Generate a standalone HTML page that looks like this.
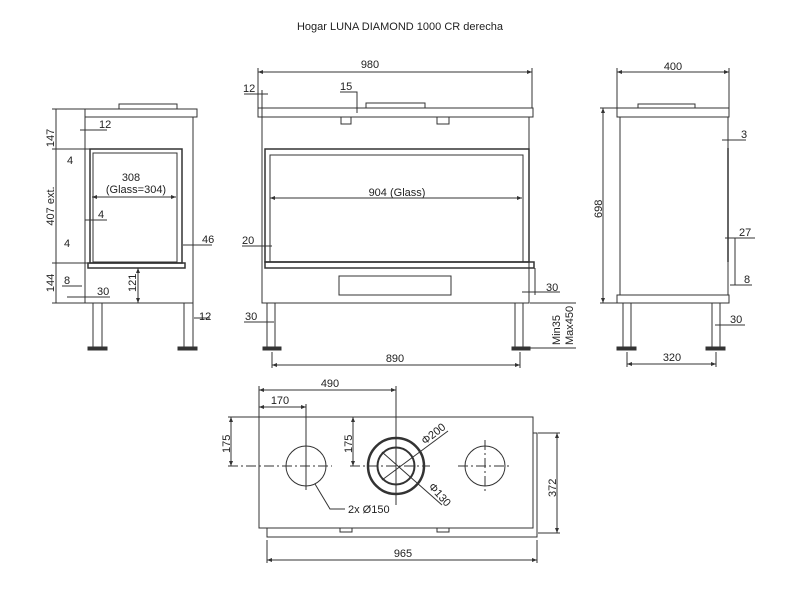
<!DOCTYPE html>
<html><head><meta charset="utf-8"><style>
html,body{margin:0;padding:0;background:#fff}
svg{display:block}
text{font-family:"Liberation Sans",sans-serif;fill:#222}
</style></head><body>
<svg width="800" height="600" viewBox="0 0 800 600" xmlns="http://www.w3.org/2000/svg">
<defs><marker id="a" markerWidth="6" markerHeight="6" refX="5" refY="3" orient="auto-start-reverse"><path d="M0,1 L5,3 L0,5" fill="#333"/></marker></defs>
<text x="400" y="30" font-size="11" text-anchor="middle">Hogar LUNA DIAMOND 1000 CR derecha</text>
<g stroke="#333" stroke-width="1" fill="none">
<!-- LEFT VIEW -->
<rect x="119" y="104" width="58" height="5"/>
<rect x="85" y="109" width="112" height="8"/>
<rect x="85" y="117" width="108" height="186"/>
<rect x="90" y="149" width="92" height="114" stroke-width="1.5"/>
<rect x="93" y="153" width="84" height="109"/>
<rect x="88" y="263" width="97" height="5" stroke-width="1.5"/>
<rect x="93" y="303" width="9" height="44"/><rect x="88" y="347" width="19" height="3" fill="#333"/>
<rect x="184" y="303" width="9" height="44"/><rect x="178" y="347" width="19" height="3" fill="#333"/>
<line x1="56" y1="109" x2="56" y2="303"/>
<line x1="52" y1="109" x2="85" y2="109"/><line x1="52" y1="149" x2="90" y2="149"/><line x1="52" y1="263" x2="90" y2="263"/><line x1="52" y1="303" x2="85" y2="303"/>
<line x1="92" y1="197" x2="176" y2="197" marker-start="url(#a)" marker-end="url(#a)"/>
<line x1="80" y1="130" x2="107" y2="130"/><line x1="85" y1="220" x2="107" y2="220"/>
<line x1="67" y1="297" x2="110" y2="297"/><line x1="62" y1="286" x2="82" y2="286"/>
<line x1="183" y1="245" x2="212" y2="245"/>
<line x1="138" y1="268" x2="138" y2="303" marker-start="url(#a)" marker-end="url(#a)"/>
<line x1="194" y1="318" x2="210" y2="318"/>
<!-- MIDDLE VIEW -->
<line x1="258" y1="72" x2="532" y2="72" marker-start="url(#a)" marker-end="url(#a)"/>
<line x1="258" y1="68" x2="258" y2="108"/><line x1="532" y1="68" x2="532" y2="108"/>
<line x1="244" y1="94" x2="268" y2="94"/><line x1="262" y1="90" x2="262" y2="117"/>
<polyline points="340,92 357,92 357,113"/>
<rect x="366" y="103" width="59" height="5"/>
<rect x="258" y="108" width="275" height="9"/>
<rect x="341" y="117" width="10" height="7"/><rect x="437" y="117" width="12" height="7"/>
<rect x="262" y="117" width="267" height="186"/>
<rect x="265" y="149" width="264" height="113" stroke-width="1.5"/>
<rect x="270" y="155" width="253" height="107"/>
<rect x="265" y="262" width="269" height="6" stroke-width="1.5"/>
<line x1="270" y1="198" x2="522" y2="198" marker-start="url(#a)" marker-end="url(#a)"/>
<line x1="242" y1="246" x2="272" y2="246"/>
<rect x="339" y="276" width="112" height="19"/>
<rect x="267" y="303" width="8" height="44"/><rect x="263" y="347" width="18" height="3" fill="#333"/>
<rect x="515" y="303" width="8" height="44"/><rect x="512" y="347" width="18" height="3" fill="#333"/>
<line x1="535" y1="268" x2="535" y2="295"/><line x1="522" y1="292" x2="560" y2="292"/>
<line x1="530" y1="303" x2="576" y2="303"/><line x1="530" y1="348" x2="576" y2="348"/>
<line x1="244" y1="322" x2="274" y2="322"/>
<line x1="272" y1="352" x2="272" y2="368"/><line x1="520" y1="352" x2="520" y2="368"/>
<line x1="272" y1="365" x2="520" y2="365" marker-start="url(#a)" marker-end="url(#a)"/>
<!-- RIGHT VIEW -->
<line x1="617" y1="72" x2="729" y2="72" marker-start="url(#a)" marker-end="url(#a)"/>
<line x1="617" y1="68" x2="617" y2="108"/><line x1="729" y1="68" x2="729" y2="108"/>
<rect x="638" y="104" width="57" height="4"/>
<rect x="617" y="108" width="112" height="9"/>
<rect x="620" y="117" width="108" height="178"/>
<rect x="617" y="295" width="112" height="8"/>
<line x1="728" y1="148" x2="728" y2="262" stroke-width="1.5"/>
<line x1="603" y1="108" x2="603" y2="303" marker-start="url(#a)" marker-end="url(#a)"/>
<line x1="600" y1="108" x2="617" y2="108"/><line x1="600" y1="303" x2="617" y2="303"/>
<line x1="722" y1="140" x2="746" y2="140"/>
<line x1="725" y1="238" x2="755" y2="238"/><line x1="735" y1="238" x2="735" y2="285"/>
<line x1="730" y1="285" x2="752" y2="285"/>
<rect x="623" y="303" width="8" height="44"/><rect x="617" y="347" width="19" height="3" fill="#333"/>
<rect x="712" y="303" width="8" height="44"/><rect x="706" y="347" width="19" height="3" fill="#333"/>
<line x1="715" y1="325" x2="745" y2="325"/>
<line x1="627" y1="352" x2="627" y2="367"/><line x1="716" y1="352" x2="716" y2="367"/>
<line x1="627" y1="364" x2="716" y2="364" marker-start="url(#a)" marker-end="url(#a)"/>
<!-- BOTTOM VIEW -->
<line x1="259" y1="390" x2="396" y2="390" marker-start="url(#a)" marker-end="url(#a)"/>
<line x1="259" y1="386" x2="259" y2="417"/><line x1="396" y1="386" x2="396" y2="505"/>
<line x1="259" y1="407" x2="306" y2="407" marker-start="url(#a)" marker-end="url(#a)"/>
<line x1="306" y1="404" x2="306" y2="490"/>
<rect x="259" y="417" width="274" height="111"/>
<polyline points="267,528 267,537 537,537 537,433 533,433"/>
<rect x="340" y="528" width="12" height="4"/><rect x="437" y="528" width="12" height="4"/>
<line x1="231" y1="417" x2="231" y2="466" marker-start="url(#a)" marker-end="url(#a)"/>
<line x1="228" y1="417" x2="259" y2="417"/><line x1="228" y1="466" x2="332" y2="466" stroke-dasharray="10,3,2,3"/>
<line x1="353" y1="417" x2="353" y2="466" marker-start="url(#a)" marker-end="url(#a)"/>
<line x1="350" y1="466" x2="430" y2="466" stroke-dasharray="10,3,2,3"/>
<line x1="458" y1="466" x2="512" y2="466" stroke-dasharray="10,3,2,3"/>
<line x1="485" y1="440" x2="485" y2="492" stroke-dasharray="10,3,2,3"/>
<circle cx="306" cy="466" r="20"/>
<circle cx="396" cy="466" r="28" stroke-width="2.5"/>
<circle cx="396" cy="466" r="18.5" stroke-width="2"/>
<circle cx="485" cy="466" r="20"/>
<line x1="382" y1="480" x2="448" y2="431"/>
<line x1="382" y1="452" x2="442" y2="505"/>
<polyline points="315,484 330,509 345,509"/>
<line x1="557" y1="433" x2="557" y2="533" marker-start="url(#a)" marker-end="url(#a)"/>
<line x1="538" y1="433" x2="560" y2="433"/><line x1="538" y1="533" x2="560" y2="533"/>
<line x1="267" y1="540" x2="267" y2="563"/><line x1="537" y1="540" x2="537" y2="563"/>
<line x1="267" y1="560" x2="537" y2="560" marker-start="url(#a)" marker-end="url(#a)"/>
</g>
<g font-size="11">
<text x="370" y="68" text-anchor="middle">980</text>
<text x="243" y="92">12</text>
<text x="340" y="90">15</text>
<text x="397" y="196" text-anchor="middle">904 (Glass)</text>
<text x="242" y="244">20</text>
<text x="546" y="291">30</text>
<text x="245" y="320">30</text>
<text x="395" y="362" text-anchor="middle">890</text>
<text transform="translate(560,345) rotate(-90)">Min35</text>
<text transform="translate(573,345) rotate(-90)">Max450</text>
<text x="99" y="128">12</text>
<text x="131" y="181" text-anchor="middle">308</text>
<text x="136" y="193" text-anchor="middle">(Glass=304)</text>
<text x="98" y="218">4</text>
<text x="67" y="164">4</text>
<text x="64" y="247">4</text>
<text x="64" y="284">8</text>
<text x="97" y="295">30</text>
<text x="202" y="243">46</text>
<text x="199" y="320">12</text>
<text transform="translate(54,138) rotate(-90)" text-anchor="middle">147</text>
<text transform="translate(54,206) rotate(-90)" text-anchor="middle">407 ext.</text>
<text transform="translate(54,283) rotate(-90)" text-anchor="middle">144</text>
<text transform="translate(136,292) rotate(-90)">121</text>
<text x="673" y="70" text-anchor="middle">400</text>
<text transform="translate(602,218) rotate(-90)">698</text>
<text x="741" y="138">3</text>
<text x="739" y="236">27</text>
<text x="744" y="283">8</text>
<text x="730" y="323">30</text>
<text x="672" y="361" text-anchor="middle">320</text>
<text x="330" y="387" text-anchor="middle">490</text>
<text x="280" y="404" text-anchor="middle">170</text>
<text transform="translate(230,453) rotate(-90)">175</text>
<text transform="translate(352,453) rotate(-90)">175</text>
<text transform="translate(425,445) rotate(-38)">Φ200</text>
<text transform="translate(428,487) rotate(48)">Φ130</text>
<text x="348" y="513">2x Ø150</text>
<text transform="translate(556,497) rotate(-90)">372</text>
<text x="403" y="557" text-anchor="middle">965</text>
</g>
</svg>
</body></html>
